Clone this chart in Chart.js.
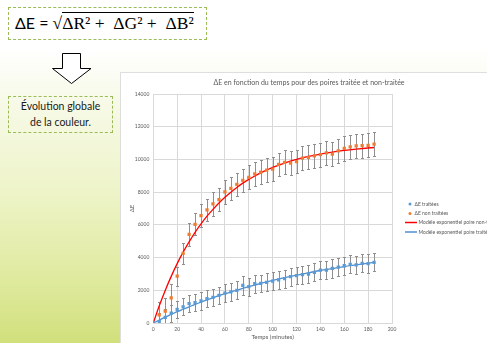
<!DOCTYPE html>
<html>
<head>
<meta charset="utf-8">
<script src="https://cdn.jsdelivr.net/npm/chart.js@4.4.1/dist/chart.umd.min.js"></script>
<style>
html,body{margin:0;padding:0;width:487px;height:343px;overflow:hidden;}
body{position:relative;background:linear-gradient(to bottom,#ffffff 0px,#ffffff 48px,#f8faea 95px,#eef4c9 190px,#dfea9e 280px,#d1e07c 343px);}
.formula{position:absolute;left:8px;top:7px;width:199px;height:33px;box-sizing:border-box;border:1px dashed #9bbb59;background:#fff;white-space:pre;line-height:30px;padding-left:6px;color:#000;}
.formula .s{font-family:Lato,"Open Sans",sans-serif;font-size:16px;}
.formula .m{font-family:"Liberation Serif","DejaVu Serif",serif;font-size:17.5px;}
.formula .ov{border-top:1px solid #000;}
.arrow{position:absolute;left:0;top:0;}
.box{position:absolute;left:8px;top:96px;width:105px;height:37px;box-sizing:border-box;border:1px dashed #9bbb59;text-align:center;font-family:Lato,"Open Sans",sans-serif;font-size:10.5px;line-height:16px;padding-top:1px;color:#1a1a1a;}
.panel{position:absolute;left:121px;top:73px;width:376px;height:270px;background:#fff;outline:1px solid #dedede;}
</style>
</head>
<body>
<div class="formula"><span class="s">ΔE = </span><span class="m">√<span class="ov">ΔR² +  ΔG² +  ΔB²</span></span></div>
<svg class="arrow" width="120" height="90"><polygon points="62.5,53.5 80.5,53.5 80.5,68.5 91,68.5 71.5,83.5 52.5,68.5 62.5,68.5" fill="#fff" stroke="#000" stroke-width="1"/></svg>
<div class="box">Évolution globale<br>de la couleur.</div>
<div class="panel"><canvas id="c" width="376" height="270"></canvas></div>
<script>
const times = [0,5,10,15,20,25,30,35,40,45,50,55,60,65,70,75,80,85,90,95,100,105,110,115,120,125,130,135,140,145,150,155,160,165,170,175,180,185];
const deltaE_treated = [0,80,350,610,830,980,1180,1240,1350,1490,1570,1690,1830,1900,2000,2300,2220,2400,2420,2490,2560,2640,2720,2830,2900,2960,2990,3100,3240,3240,3340,3420,3500,3590,3550,3650,3630,3710];
const deltaE_untreated = [0,490,730,1530,2870,4260,5420,6030,6560,6910,7280,7540,8010,8230,8480,8720,8900,9110,9230,9350,9410,9690,9820,9770,9870,10080,10130,10210,10290,10400,10320,10520,10670,10760,10830,10840,10860,10930];
const err_treated = [0,520,500,520,530,520,530,520,530,520,530,540,540,530,540,560,540,550,540,540,550,540,550,550,540,550,550,550,560,550,560,550,560,560,550,560,560,560];
const err_untreated = [0,810,820,830,580,660,700,680,700,700,710,720,720,710,720,720,730,720,730,720,730,720,730,730,730,730,740,730,740,730,740,740,740,740,740,740,740,740];
const modelTimes = [0,5,10,15,20,25,30,35,40,45,50,55,60,65,70,75,80,85,90,95,100,110,120,130,140,150,160,170,185];
const model_untreated = [0,1050,1990,2850,3630,4330,4960,5540,6060,6530,6950,7340,7690,8000,8290,8550,8780,8990,9180,9350,9510,9780,10000,10180,10330,10450,10550,10630,10730];
const model_treated = [0,180,360,525,690,840,990,1140,1280,1410,1540,1670,1790,1900,2010,2120,2220,2320,2420,2510,2600,2770,2930,3070,3210,3330,3450,3550,3700];
const seriesNames = ["ΔE traitées","ΔE non traitées","Modèle exponentiel poire non-traitée","Modèle exponentiel poire traitée"];
const chartTitle = "ΔE en fonction du temps pour des poires traitée et non-traitée";
const xTitle = "Temps (minutes)";
const yTitle = "ΔE";

const FONT = 'Lato, "Open Sans", sans-serif';
const TXT = '#595959';
const BLUE = '#5B9BD5', ORANGE = '#ED7D31', RED = '#FF0000', BLUE_LINE = '#4F8FD0';

const pts = (xs, ys) => xs.map((t, i) => ({x: t, y: ys[i]}));

const errorBars = {
  id: 'errorBars',
  beforeDatasetsDraw(chart) {
    const {ctx, chartArea, scales: {x, y}} = chart;
    ctx.save();
    ctx.beginPath();
    ctx.rect(chartArea.left, chartArea.top, chartArea.right - chartArea.left, chartArea.bottom - chartArea.top);
    ctx.clip();
    ctx.strokeStyle = '#8f8f8f';
    ctx.lineWidth = 1;
    [[deltaE_treated, err_treated], [deltaE_untreated, err_untreated]].forEach(([vals, errs]) => {
      times.forEach((t, i) => {
        if (!errs[i]) return;
        const px = Math.round(x.getPixelForValue(t)) + 0.5;
        const y1 = Math.round(y.getPixelForValue(vals[i] - errs[i])) + 0.5;
        const y2 = Math.round(y.getPixelForValue(vals[i] + errs[i])) + 0.5;
        ctx.beginPath();
        ctx.moveTo(px, y1); ctx.lineTo(px, y2);
        ctx.moveTo(px - 1.5, y1); ctx.lineTo(px + 1.5, y1);
        ctx.moveTo(px - 1.5, y2); ctx.lineTo(px + 1.5, y2);
        ctx.stroke();
      });
    });
    ctx.restore();
  }
};

const titleAndLegend = {
  id: 'titleAndLegend',
  afterDraw(chart) {
    const ctx = chart.ctx;
    ctx.save();
    ctx.fillStyle = TXT;
    ctx.textBaseline = 'middle';
    ctx.textAlign = 'center';
    ctx.font = '7px ' + FONT;
    ctx.fillText(chartTitle, 188, 9.5);
    ctx.textAlign = 'left';
    ctx.font = '5px ' + FONT;
    const rows = [131, 140.5, 149.5, 159];
    const ds = chart.data.datasets;
    [0, 1].forEach((k, r) => {
      ctx.fillStyle = ds[k].backgroundColor;
      ctx.beginPath(); ctx.arc(289, rows[r], 1.5, 0, Math.PI * 2); ctx.fill();
      ctx.fillStyle = TXT;
      ctx.fillText(ds[k].label, 293.5, rows[r]);
    });
    [2, 3].forEach((k, r) => {
      ctx.strokeStyle = ds[k].borderColor;
      ctx.lineWidth = 1.5;
      ctx.beginPath(); ctx.moveTo(284, rows[r + 2]); ctx.lineTo(296, rows[r + 2]); ctx.stroke();
      ctx.fillStyle = TXT;
      ctx.fillText(ds[k].label, 297.5, rows[r + 2]);
    });
    ctx.restore();
  }
};

new Chart(document.getElementById('c'), {
  type: 'line',
  data: {
    datasets: [
      {label: seriesNames[0], data: pts(times, deltaE_treated), showLine: false, pointStyle: 'rect', pointRadius: 2.3, backgroundColor: BLUE, borderColor: BLUE, borderWidth: 0, order: 0},
      {label: seriesNames[1], data: pts(times, deltaE_untreated), showLine: false, pointStyle: 'rect', pointRadius: 2.3, backgroundColor: ORANGE, borderColor: ORANGE, borderWidth: 0, order: 0},
      {label: seriesNames[2], data: pts(modelTimes, model_untreated), borderColor: RED, backgroundColor: RED, borderWidth: 1.3, pointRadius: 0, cubicInterpolationMode: 'monotone', fill: false, order: 1},
      {label: seriesNames[3], data: pts(modelTimes, model_treated), borderColor: BLUE_LINE, backgroundColor: BLUE_LINE, borderWidth: 1.3, pointRadius: 0, cubicInterpolationMode: 'monotone', fill: false, order: 1}
    ]
  },
  options: {
    responsive: false,
    animation: false,
    devicePixelRatio: 1,
    layout: {padding: {left: 0, right: 105, top: 21, bottom: 0}},
    plugins: {
      legend: {display: false},
      tooltip: {enabled: false},
      title: {display: false}
    },
    scales: {
      x: {
        type: 'linear', min: 0, max: 200,
        ticks: {stepSize: 20, color: TXT, font: {family: FONT, size: 5}, padding: 3, maxRotation: 0},
        grid: {color: '#d9d9d9', drawTicks: false},
        border: {color: '#d9d9d9'},
        title: {display: true, text: xTitle, color: TXT, font: {family: FONT, size: 6}, padding: {top: 0, bottom: 2.4}},
        afterFit(s) { s.height = 20; }
      },
      y: {
        min: 0, max: 14000,
        ticks: {stepSize: 2000, color: TXT, font: {family: FONT, size: 5}, padding: 4, callback: v => String(v)},
        grid: {color: '#d9d9d9', drawTicks: false},
        border: {display: false},
        title: {display: true, text: yTitle, color: TXT, font: {family: FONT, size: 6}, padding: {top: 7.4, bottom: 0}},
        afterFit(s) { s.width = 32.3; }
      }
    }
  },
  plugins: [errorBars, titleAndLegend]
});
</script>
</body>
</html>
